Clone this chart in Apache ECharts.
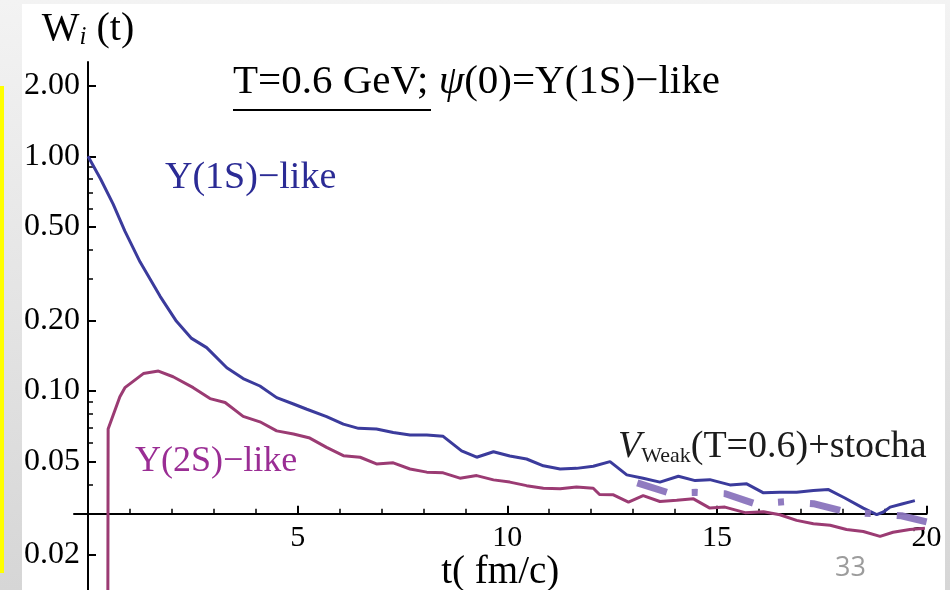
<!DOCTYPE html>
<html><head><meta charset="utf-8">
<script src="https://cdn.jsdelivr.net/npm/echarts@6/dist/echarts.min.js"></script>
<style>html,body{margin:0;padding:0;background:#fff;}#c{width:950px;height:590px;}</style>
</head><body><div id="c"></div>
<script>
// ---- data ----
const tBlue = [0, 0.3, 0.6, 0.88, 1.24, 1.72, 2.11, 2.47, 2.83, 3.31, 3.7, 4.1, 4.5, 4.9, 5.22, 5.69, 6.09, 6.45, 6.88, 7.28, 7.68, 8.08, 8.47, 8.91, 9.27, 9.67, 10.06, 10.46, 10.86, 11.26, 11.65, 12.05, 12.45, 12.85, 13.24, 13.64, 14.08, 14.48, 14.83, 15.31, 15.71, 16.11, 16.5, 16.9, 17.3, 17.66, 18.05, 18.49, 18.81, 18.97, 19.13, 19.41, 19.72];
const wBlue = [1.0, 0.8, 0.625, 0.48, 0.355, 0.253, 0.198, 0.1675, 0.153, 0.1256, 0.113, 0.105, 0.0937, 0.088, 0.0836, 0.0778, 0.0722, 0.0693, 0.0689, 0.0665, 0.0649, 0.0649, 0.0641, 0.0556, 0.0522, 0.0551, 0.0528, 0.0513, 0.048, 0.0465, 0.0468, 0.0478, 0.05, 0.0439, 0.0425, 0.0409, 0.0433, 0.0415, 0.0419, 0.0398, 0.0402, 0.0368, 0.037, 0.037, 0.0377, 0.038, 0.035, 0.0317, 0.0297, 0.0305, 0.032, 0.033, 0.0341];
const tPurple = [0.47, 0.48, 0.76, 0.88, 1.32, 1.68, 2.03, 2.51, 2.91, 3.27, 3.7, 4.1, 4.5, 4.9, 5.29, 5.69, 6.09, 6.49, 6.88, 7.28, 7.68, 8.08, 8.47, 8.87, 9.27, 9.67, 10.06, 10.46, 10.86, 11.26, 11.65, 12.05, 12.2, 12.53, 12.89, 13.24, 13.64, 14.04, 14.44, 14.83, 15.19, 15.67, 16.11, 16.5, 16.9, 17.3, 17.7, 18.09, 18.49, 18.89, 19.2, 19.6, 19.96];
const wPurple = [0.005, 0.0688, 0.0945, 0.1033, 0.1186, 0.1216, 0.115, 0.1033, 0.0928, 0.0893, 0.0779, 0.0739, 0.0676, 0.0656, 0.063, 0.0575, 0.053, 0.0522, 0.0489, 0.0494, 0.0465, 0.0451, 0.0448, 0.0425, 0.0436, 0.0418, 0.0409, 0.0395, 0.0385, 0.0383, 0.039, 0.0385, 0.0362, 0.0361, 0.0336, 0.0358, 0.0338, 0.0342, 0.0347, 0.0317, 0.032, 0.0303, 0.0306, 0.0297, 0.0281, 0.0272, 0.0268, 0.0257, 0.0252, 0.024, 0.025, 0.0257, 0.026];
const tWeak = [13.1, 13.85, 14.5, 15.2, 15.9, 16.6, 17.3, 18.05, 18.7, 19.4, 20];
const wWeak = [0.0406, 0.0368, 0.037, 0.0365, 0.0331, 0.0337, 0.0331, 0.0306, 0.030, 0.0294, 0.0277];

const yMajorTicks = [2, 1, 0.5, 0.2, 0.1, 0.05, 0.02];
const yMinorTicks = [0.9, 0.8, 0.7, 0.6, 0.4, 0.3, 0.09, 0.08, 0.07, 0.06, 0.04, 0.03];
const xMajorTicks = [5, 10, 15, 20];
const xMinorTicks = [1, 2, 3, 4, 6, 7, 8, 9, 11, 12, 13, 14, 16, 17, 18, 19];
const yRange = [0.01419, 2.522];
const tRange = [0, 20];
const tAxisStart = -0.334;
const xAxisCrossing = 0.03;

// ---- layout ----
const SERIF = "'Liberation Serif', 'Times New Roman', serif";
const G = { left: 88, right: 23.4, top: 62, bottom: 0 };
const H = 590 - G.top - G.bottom;
const L = Math.log10;
const crossY = G.top + H * (L(yRange[1]) - L(xAxisCrossing)) / (L(yRange[1]) - L(yRange[0]));
const band = 20;

const zip = (a, b) => a.map((v, i) => [v, b[i]]);

const hiddenX = (gi, min) => ({ type: 'value', gridIndex: gi, min: min, max: tRange[1], show: false });
const hiddenY = (gi) => ({ type: 'value', gridIndex: gi, show: false });

const option = {
  animation: false,
  backgroundColor: '#ffffff',
  grid: [
    { left: G.left, right: G.right, top: G.top, bottom: G.bottom, outerBoundsMode: 'none' },
    { left: G.left, right: G.right, top: G.top, bottom: G.bottom, outerBoundsMode: 'none' },
    { left: 74, right: G.right, top: crossY - band, height: band, outerBoundsMode: 'none' },
    { left: 74, right: G.right, top: crossY - band, height: band, outerBoundsMode: 'none' }
  ],
  xAxis: [
    hiddenX(0, tRange[0]),
    hiddenX(1, tRange[0]),
    {
      type: 'value', gridIndex: 2, min: tAxisStart, max: tRange[1], position: 'bottom',
      axisLine: { show: true, lineStyle: { color: '#000', width: 2 } },
      axisTick: { show: true, inside: true, length: 8, customValues: xMajorTicks, lineStyle: { color: '#000', width: 2 } },
      axisLabel: { show: true, customValues: xMajorTicks, margin: 9, fontFamily: SERIF, fontSize: 30, color: '#000' },
      splitLine: { show: false },
      name: 't( fm/c)', nameLocation: 'middle', nameGap: 33,
      nameTextStyle: { fontFamily: SERIF, fontSize: 39, color: '#000' }
    },
    {
      type: 'value', gridIndex: 3, min: tAxisStart, max: tRange[1], position: 'bottom',
      axisLine: { show: false },
      axisTick: { show: true, inside: true, length: 5, customValues: xMinorTicks, lineStyle: { color: '#000', width: 1.5 } },
      axisLabel: { show: false },
      splitLine: { show: false }
    }
  ],
  yAxis: [
    {
      type: 'log', logBase: 10, gridIndex: 0, min: yRange[0], max: yRange[1], position: 'left',
      axisLine: { show: true, lineStyle: { color: '#000', width: 2 } },
      axisTick: { show: true, inside: true, length: 8, customValues: yMajorTicks, lineStyle: { color: '#000', width: 2 } },
      axisLabel: { show: true, customValues: yMajorTicks, margin: 8, fontFamily: SERIF, fontSize: 32, color: '#000',
        formatter: v => Number(v).toFixed(2) },
      splitLine: { show: false },
      name: '{w|W}{i|i}{w| (t)}', nameLocation: 'end', nameGap: 12,
      nameTextStyle: {
        rich: {
          w: { fontFamily: SERIF, fontSize: 40, color: '#000', lineHeight: 42, verticalAlign: 'middle' },
          i: { fontFamily: SERIF, fontSize: 25, fontStyle: 'italic', color: '#000', lineHeight: 22, verticalAlign: 'bottom' }
        }
      }
    },
    {
      type: 'log', logBase: 10, gridIndex: 1, min: yRange[0], max: yRange[1], position: 'left',
      axisLine: { show: false },
      axisTick: { show: true, inside: true, length: 5, customValues: yMinorTicks, lineStyle: { color: '#000', width: 1.5 } },
      axisLabel: { show: false },
      splitLine: { show: false }
    },
    hiddenY(2),
    hiddenY(3)
  ],
  series: [
    {
      name: 'Υ(1S)−like', type: 'line', xAxisIndex: 0, yAxisIndex: 0, data: zip(tBlue, wBlue),
      showSymbol: false, symbol: 'none', clip: true, z: 3,
      lineStyle: { color: '#3b3b9c', width: 3 }
    },
    {
      name: 'Υ(2S)−like', type: 'line', xAxisIndex: 0, yAxisIndex: 0, data: zip(tPurple, wPurple),
      showSymbol: false, symbol: 'none', clip: true, z: 3,
      lineStyle: { color: '#9b3b73', width: 3 }
    },
    {
      name: 'VWeak(T=0.6)+stocha', type: 'line', xAxisIndex: 0, yAxisIndex: 0, data: zip(tWeak, wWeak),
      showSymbol: false, symbol: 'none', clip: true, z: 4,
      lineStyle: { color: '#8a74bd', width: 7, type: [31, 25, 6, 26], cap: 'butt', opacity: 0.95 }
    }
  ],
  graphic: [
    { type: 'rect', z: -10, silent: true, shape: { x: 0, y: 0, width: 950, height: 590 },
      style: { fill: new echarts.graphic.LinearGradient(0, 0, 0, 1, [{ offset: 0, color: '#f3f3f3' }, { offset: 1, color: '#d6d6d6' }]) } },
    { type: 'rect', z: -9, silent: true, shape: { x: 22, y: 4, width: 923, height: 586 }, style: { fill: '#ffffff' } },
    { type: 'rect', z: -8, silent: true, shape: { x: 0, y: 86, width: 4, height: 487 }, style: { fill: '#ffff00' } },
    { type: 'text', silent: true, x: 233, y: 82,
      style: { text: '{a|T=0.6 GeV; }{p|ψ}{a|(0)=Υ(1S)−like}', align: 'left', verticalAlign: 'middle',
        rich: {
          a: { fontFamily: SERIF, fontSize: 41, fill: '#000' },
          p: { fontFamily: SERIF, fontSize: 41, fontStyle: 'italic', fill: '#000' }
        } } },
    { type: 'line', silent: true, shape: { x1: 233, y1: 110, x2: 431, y2: 110 }, style: { stroke: '#000', lineWidth: 2 } },
    { type: 'text', silent: true, x: 165, y: 178,
      style: { text: 'Υ(1S)−like', fontFamily: SERIF, fontSize: 38, fill: '#2b2b95', align: 'left', verticalAlign: 'middle' } },
    { type: 'text', silent: true, x: 135, y: 462,
      style: { text: 'Υ(2S)−like', fontFamily: SERIF, fontSize: 36, fill: '#9a2d94', align: 'left', verticalAlign: 'middle' } },
    { type: 'text', silent: true, x: 618, y: 447,
      style: { text: '{v|V}{s|Weak}{r|(T=0.6)+stocha}', align: 'left', verticalAlign: 'middle',
        rich: {
          v: { fontFamily: SERIF, fontSize: 38, fontStyle: 'italic', fill: '#1c1c1c', lineHeight: 40, verticalAlign: 'middle' },
          s: { fontFamily: SERIF, fontSize: 22, fill: '#1c1c1c', lineHeight: 20, verticalAlign: 'bottom' },
          r: { fontFamily: SERIF, fontSize: 38, fill: '#1c1c1c', lineHeight: 40, verticalAlign: 'middle' }
        } } },
    { type: 'text', silent: true, x: 835, y: 568,
      style: { text: '33', fontFamily: "'Open Sans', sans-serif", fontSize: 27, fill: '#9c9c9c', align: 'left', verticalAlign: 'middle' } }
  ]
};

const chart = echarts.init(document.getElementById('c'));
chart.setOption(option);
</script>
</body></html>
